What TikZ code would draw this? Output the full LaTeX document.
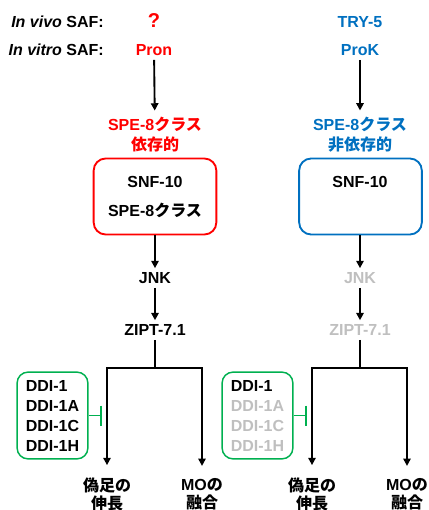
\documentclass[tikz,border=0pt]{standalone}
\usepackage{fontspec}
\setmainfont{Liberation Sans}
\newfontfamily\jp{Noto Sans CJK JP}
\usetikzlibrary{arrows.meta}

\definecolor{safred}{HTML}{FF0000}
\definecolor{safblue}{HTML}{0070C0}
\definecolor{ddigreen}{HTML}{00B050}
\definecolor{offgray}{HTML}{BFBFBF}

\tikzset{
  lbl/.style={font=\bfseries\fontsize{12}{15}\selectfont, inner sep=3pt},
  deplbl/.style={lbl, align=center, inner ysep=5pt},
  outlbl/.style={lbl, align=center, font=\bfseries\fontsize{12}{13.5}\selectfont, inner ysep=9pt},
  cplx/.style={draw, line width=1.4pt, rounded corners=9pt, minimum width=92pt, minimum height=57pt},
  ddibox/.style={draw=ddigreen, line width=1.1pt, rounded corners=8pt, minimum width=53pt, minimum height=65pt,
    align=left, font=\bfseries\fontsize{12}{15}\selectfont, inner sep=2pt},
  arr/.style={line width=1.4pt, -{Triangle[length=5.5pt,width=5.5pt]}},
  wire/.style={line width=1.4pt},
  inhib/.style={color=ddigreen, line width=1.3pt, -{Bar[width=15pt]}}
}

\begin{document}
\begin{tikzpicture}[x=0.75pt,y=-0.75pt]
  \useasboundingbox (0,0) rectangle (428,510);

  % SAF rows
  \node[lbl, anchor=east] (vivo) at (108,22) {\textit{In vivo} SAF:};
  \node[lbl, anchor=east] (vitro) at (108,50) {\textit{In vitro} SAF:};
  \node[lbl, safred, font=\bfseries\fontsize{15}{15}\selectfont] (qL) at (154,21) {?};
  \node[lbl, safred] (pronL) at (154,50) {Pron};
  \node[lbl, safblue] (tryR) at (360,22) {TRY-5};
  \node[lbl, safblue] (prokR) at (360,50) {ProK};

  \node[deplbl, safred] (depL) at (155,135) {SPE-8{\jp クラス}\\{\jp 依存的}};
  \node[deplbl, safblue] (depR) at (360,135) {SPE-8{\jp クラス}\\{\jp 非依存的}};
  \draw[arr] (pronL) -- (depL);
  \draw[arr] (prokR) -- (depR);

  % receptor complexes
  \node[cplx, safred] (boxL) at (155,196.5) {};
  \node[lbl] (snfL) at (155,182) {SNF-10};
  \node[lbl] (speL) at (155,210) {SPE-8{\jp クラス}};
  \node[cplx, safblue] (boxR) at (360.5,196.5) {};
  \node[lbl] (snfR) at (360,182) {SNF-10};

  % kinase cascade
  \node[lbl] (jnkL) at (155,278) {JNK};
  \node[lbl] (ziptL) at (155,330) {ZIPT-7.1};
  \node[lbl, offgray] (jnkR) at (360,278) {JNK};
  \node[lbl, offgray] (ziptR) at (360,330) {ZIPT-7.1};
  \draw[arr] (boxL.south) -- (jnkL.north);
  \draw[arr] (jnkL) -- (ziptL);
  \draw[arr] (boxR.south -| jnkR) -- (jnkR.north);
  \draw[arr] (jnkR) -- (ziptR);

  % outputs
  \node[outlbl] (podL) at (107,494) {{\jp 偽足の}\\{\jp 伸長}};
  \node[outlbl] (moL) at (202,494) {MO{\jp の}\\{\jp 融合}};
  \node[outlbl] (podR) at (312,494) {{\jp 偽足の}\\{\jp 伸長}};
  \node[outlbl] (moR) at (407,494) {MO{\jp の}\\{\jp 融合}};

  \coordinate (brL) at (155,368);
  \coordinate (brR) at (360,368);
  \draw[wire] (ziptL) -- (brL);
  \draw[arr] (brL) -| (podL.north);
  \draw[arr] (brL) -| (moL.north);
  \draw[wire] (ziptR) -- (brR);
  \draw[arr] (brR) -| (podR.north);
  \draw[arr] (brR) -| (moR.north);

  % DDI-1 protease inhibition
  \node[ddibox] (ddiL) at (52.5,415.5) {DDI-1\\DDI-1A\\DDI-1C\\DDI-1H};
  \node[ddibox] (ddiR) at (257.5,415.5) {DDI-1\\\textcolor{offgray}{DDI-1A}\\\textcolor{offgray}{DDI-1C}\\\textcolor{offgray}{DDI-1H}};
  \coordinate (stopL) at (102,415.5);
  \coordinate (stopR) at (307,415.5);
  \draw[inhib] (ddiL.east) -- (stopL);
  \draw[inhib] (ddiR.east) -- (stopR);
\end{tikzpicture}
\end{document}
